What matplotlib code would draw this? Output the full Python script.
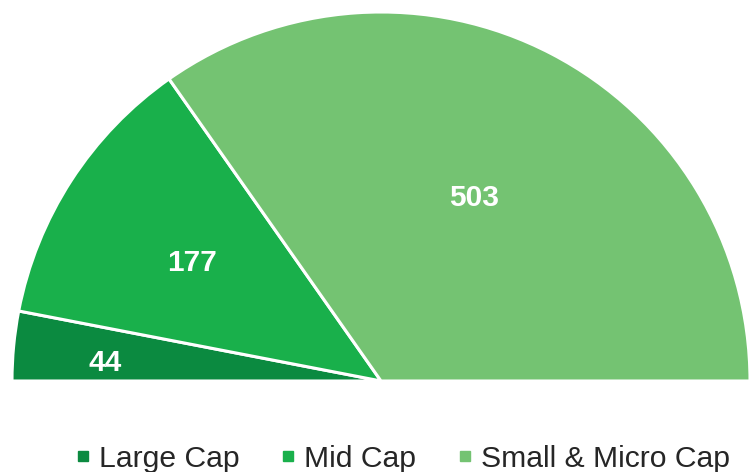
import matplotlib
matplotlib.use("Agg")
import matplotlib.pyplot as plt
from matplotlib.lines import Line2D
import numpy as np

categories = ["Large Cap", "Mid Cap", "Small & Micro Cap"]
values = [44, 177, 503]
colors = ["#0b8a40", "#19b04b", "#74c372"]

plt.rcParams['font.family'] = ['Liberation Sans', 'DejaVu Sans']

W, H = 749, 472
dpi = 100
fig = plt.figure(figsize=(W / dpi, H / dpi), dpi=dpi)

cx, cy, R = 381.0, 381.0, 369.0
ax = fig.add_axes([0, 0, 1, 1])

total = sum(values)
wedges, _ = ax.pie(values + [total], colors=colors + ["none"], startangle=180,
                   counterclock=False, radius=1.0,
                   wedgeprops=dict(edgecolor="white", linewidth=2.2))
wedges[-1].set_visible(False)
ax.set_aspect('auto')
ax.set_xlim(-cx / R, (W - cx) / R)
ax.set_ylim(-(H - cy) / R, cy / R)
ax.axis('off')

# label placement (fraction of radius, angle tweak in degrees)
label_dist = [0.75, 0.61, 0.565]
label_angle_shift = [1.0, 0.2, 0.9]
start = 180.0
for i, v in enumerate(values):
    span = 180.0 * v / total
    mid = start - span / 2 + label_angle_shift[i]
    start -= span
    th = np.deg2rad(mid)
    ax.text(label_dist[i] * np.cos(th), label_dist[i] * np.sin(th) - 0.009,
            str(v), ha='center', va='center', color='white', fontsize=21.5,
            fontweight='bold')

handles = [Line2D([], [], marker='s', linestyle='', markersize=7.8,
                  markerfacecolor=c, markeredgecolor=c) for c in colors]
fig.legend(handles, categories, loc='center', ncol=3,
           bbox_to_anchor=(403 / W, 1 - 459 / H), frameon=False,
           fontsize=21.7, handlelength=0.45, handletextpad=0.3,
           columnspacing=1.4, labelcolor='#262626', borderpad=0)

fig.savefig("out.png", dpi=dpi)
